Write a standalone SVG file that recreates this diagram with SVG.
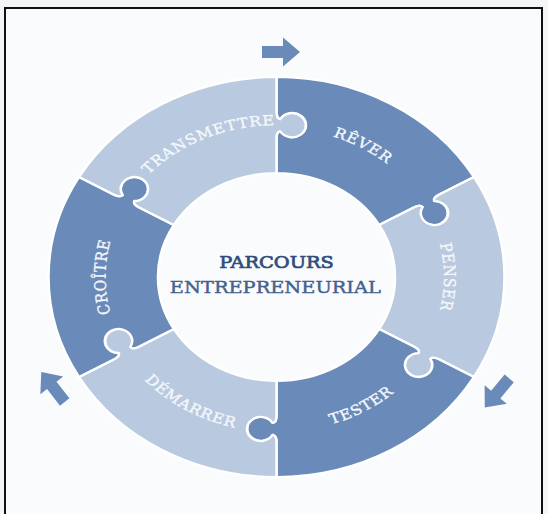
<svg xmlns="http://www.w3.org/2000/svg" xmlns:xlink="http://www.w3.org/1999/xlink" width="548" height="514" viewBox="0 0 548 514">
  <style>
    .dark { fill: #6a8bb9; stroke: #ffffff; stroke-width: 2.2; stroke-linejoin: round; }
    .light { fill: #b9c9df; stroke: #ffffff; stroke-width: 2.2; stroke-linejoin: round; }
    .lbl { font-family: "DejaVu Serif", "Liberation Serif", serif; font-size: 14px; letter-spacing: 0.8px; fill: #f4f7fb; stroke: #f4f7fb; stroke-width: 0.35; }
    .title { font-family: "DejaVu Serif", "Liberation Serif", serif; font-size: 17px; text-anchor: middle; }
    .arrow { fill: #6a8bb9; }
  </style>
  <defs>
    <path id="piece" d="M 104 0 L 139 0 Q 145.5 0 146 3.5 A 12 12 0 1 0 158 3.5 Q 158.5 0 165 0 L 200 0 A 200 200 0 0 1 100 173.205 L 82.5 142.894 Q 79.25 137.265 76.031 138.222 A 12 12 0 1 1 70.031 127.830 Q 72.75 126.007 69.5 120.378 L 52 90.067 A 104 104 0 0 0 104 0 Z"/>
    <path id="arrowShape" d="M -19 -6 L 2 -6 L 2 -14.5 L 19 0 L 2 14.5 L 2 6 L -19 6 Z"/>
    <path id="pRever" d="M -50.961 -140.014 A 149 149 0 0 1 146.737 -25.874"/>
    <path id="pTrans" d="M -146.112 -41.897 A 152 152 0 0 1 66.632 -136.616"/>
    <path id="pPenser" d="M 94.490 -112.608 A 147 147 0 0 1 94.490 112.608"/>
    <path id="pCroitre" d="M -96.418 114.907 A 150 150 0 0 1 -96.418 -114.907"/>
    <path id="pTester" d="M -53.013 145.652 A 155 155 0 0 0 152.646 26.916"/>
    <path id="pDemarrer" d="M -153.092 24.247 A 155 155 0 0 0 50.463 146.556"/>
  </defs>

  <rect x="0" y="0" width="548" height="514" fill="#f4f5f7"/>
  <rect x="5" y="8" width="537" height="520" fill="#f9fbfd" stroke="#111111" stroke-width="2"/>

  <g transform="translate(276.5,277) scale(1.14,1)">
    <g id="rever">
      <use xlink:href="#piece" href="#piece" class="dark" transform="rotate(-90)"/>
      <text class="lbl"><textPath xlink:href="#pRever" href="#pRever" startOffset="50%" text-anchor="middle">RÊVER</textPath></text>
    </g>
    <g id="penser">
      <use xlink:href="#piece" href="#piece" class="light" transform="rotate(-30)"/>
      <text class="lbl"><textPath xlink:href="#pPenser" href="#pPenser" startOffset="50%" text-anchor="middle">PENSER</textPath></text>
    </g>
    <g id="tester">
      <use xlink:href="#piece" href="#piece" class="dark" transform="rotate(30)"/>
      <text class="lbl"><textPath xlink:href="#pTester" href="#pTester" startOffset="50%" text-anchor="middle">TESTER</textPath></text>
    </g>
    <g id="demarrer">
      <use xlink:href="#piece" href="#piece" class="light" transform="rotate(90)"/>
      <text class="lbl"><textPath xlink:href="#pDemarrer" href="#pDemarrer" startOffset="50%" text-anchor="middle">DÉMARRER</textPath></text>
    </g>
    <g id="croitre">
      <use xlink:href="#piece" href="#piece" class="dark" transform="rotate(150)"/>
      <text class="lbl"><textPath xlink:href="#pCroitre" href="#pCroitre" startOffset="50%" text-anchor="middle">CROÎTRE</textPath></text>
    </g>
    <g id="transmettre">
      <use xlink:href="#piece" href="#piece" class="light" transform="rotate(210)"/>
      <text class="lbl"><textPath xlink:href="#pTrans" href="#pTrans" startOffset="50%" text-anchor="middle">TRANSMETTRE</textPath></text>
    </g>
    <g id="center">
      <text class="title" x="0" y="-9" fill="#2f4d7c" stroke="#2f4d7c" stroke-width="0.7">PARCOURS</text>
      <text class="title" x="-1" y="16" fill="#44628f" stroke="#44628f" stroke-width="0.45">ENTREPRENEURIAL</text>
    </g>
  </g>

  <g id="connectors">
    <use xlink:href="#arrowShape" href="#arrowShape" class="arrow" transform="translate(281,52)"/>
    <use xlink:href="#arrowShape" href="#arrowShape" class="arrow" transform="translate(497,393) rotate(130)"/>
    <use xlink:href="#arrowShape" href="#arrowShape" class="arrow" transform="translate(53,387) rotate(-128)"/>
  </g>
</svg>
